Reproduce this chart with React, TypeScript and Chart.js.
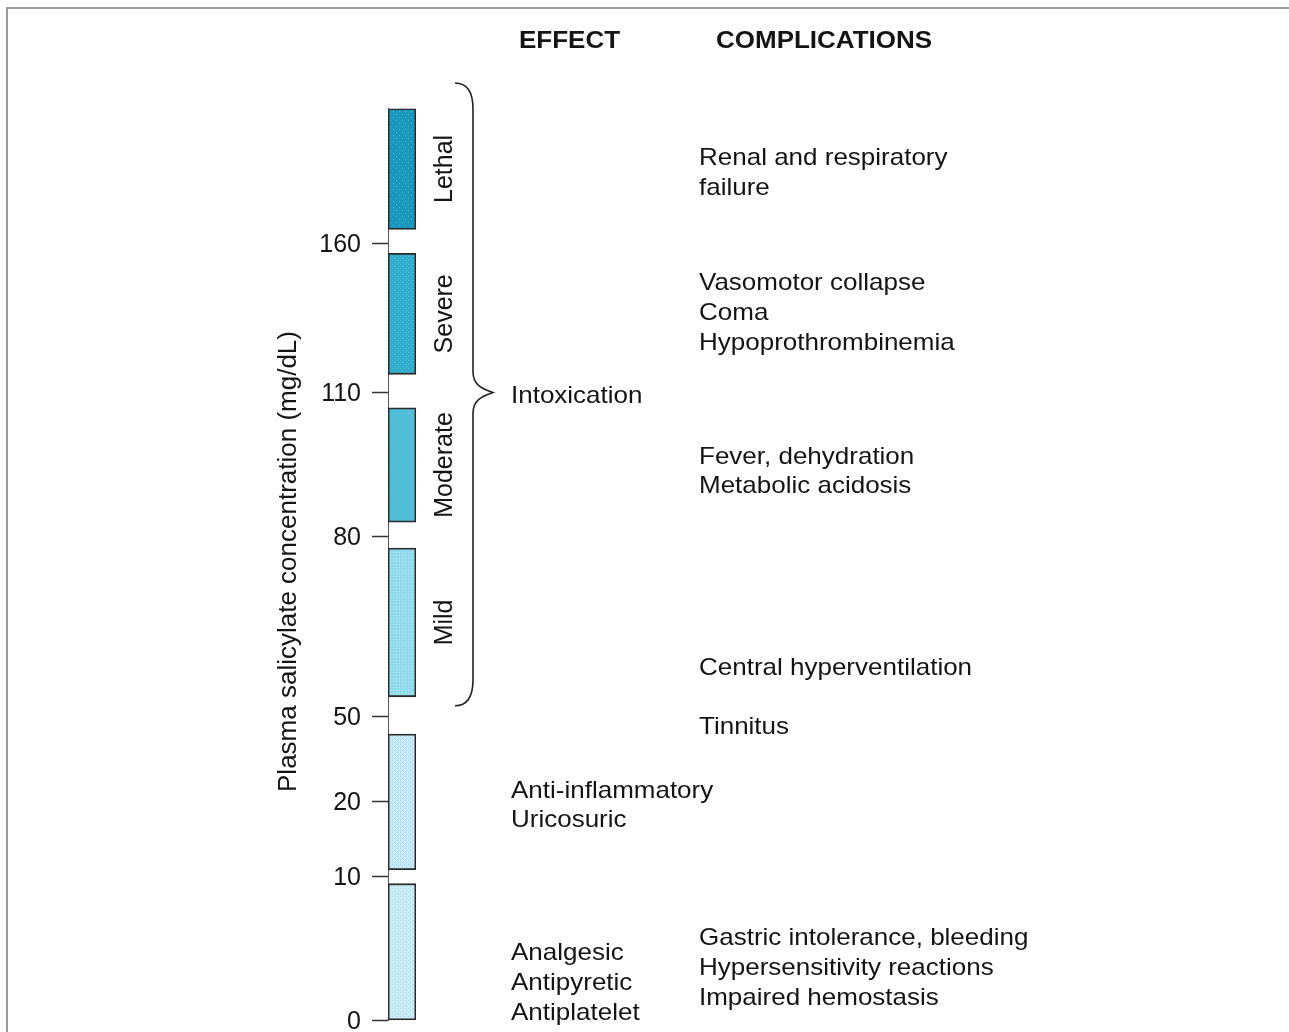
import React, { useEffect, useRef } from 'react';
import { Chart, registerables, LinearScale } from 'chart.js';

// ---------------- DATA ----------------
const TICK_VALUES = [0, 10, 20, 50, 80, 110, 160];
const STAGE_NAMES = ['Analgesic', 'Anti-inflammatory', 'Mild', 'Moderate', 'Severe', 'Lethal'];
const STAGE_LOW = [0, 10.9, 53.2, 82.9, 116.1, 164.7];
const STAGE_HIGH = [9.5, 43.6, 78, 106.8, 156.7, 205];
const STAGE_LABELS = ['', '', 'Mild', 'Moderate', 'Severe', 'Lethal'];
const BRACE_RANGE = [51.7, 213.5];
const BRACE_TIP = 110;
const HEADERS = ['EFFECT', 'COMPLICATIONS'];
const EFFECT_LINES = [['Intoxication'], ['Anti-inflammatory', 'Uricosuric'], ['Analgesic', 'Antipyretic', 'Antiplatelet']];
const EFFECT_ANCHORS = [109.5, 24.2, 4.76];
const COMPLICATION_LINES = [
  ['Renal and respiratory', 'failure'],
  ['Vasomotor collapse', 'Coma', 'Hypoprothrombinemia'],
  ['Fever, dehydration', 'Metabolic acidosis'],
  ['Central hyperventilation'],
  ['Tinnitus'],
  ['Gastric intolerance, bleeding', 'Hypersensitivity reactions', 'Impaired hemostasis'],
];
const COMPLICATION_ANCHORS = [188.9, 147.1, 96.9, 58.3, 46.8, 5.8];
const Y_TITLE = 'Plasma salicylate concentration (mg/dL)';

// ---------------- LAYOUT (non-linear axis geometry) ----------------
const AXIS_MAX = 205;
const KNOT_VALUES = [0, 10, 20, 50, 80, 110, 160, 205];
const KNOT_PX = [0, 144, 219.5, 304.5, 484.5, 628, 777, 912];
const KNOT_TOTAL = KNOT_PX[KNOT_PX.length - 1];

function valueToFrac(v: number): number {
  const n = KNOT_VALUES.length;
  let i = 0;
  if (v <= KNOT_VALUES[0]) i = 0;
  else if (v >= KNOT_VALUES[n - 1]) i = n - 2;
  else {
    while (i < n - 2 && v > KNOT_VALUES[i + 1]) i++;
  }
  const v0 = KNOT_VALUES[i], v1 = KNOT_VALUES[i + 1];
  const p0 = KNOT_PX[i], p1 = KNOT_PX[i + 1];
  return (p0 + ((v - v0) / (v1 - v0)) * (p1 - p0)) / KNOT_TOTAL;
}
function fracToValue(f: number): number {
  const px = f * KNOT_TOTAL;
  const n = KNOT_PX.length;
  let i = 0;
  if (px <= KNOT_PX[0]) i = 0;
  else if (px >= KNOT_PX[n - 1]) i = n - 2;
  else {
    while (i < n - 2 && px > KNOT_PX[i + 1]) i++;
  }
  const v0 = KNOT_VALUES[i], v1 = KNOT_VALUES[i + 1];
  const p0 = KNOT_PX[i], p1 = KNOT_PX[i + 1];
  return v0 + ((px - p0) / (p1 - p0)) * (v1 - v0);
}

class PiecewiseScale extends LinearScale {
  static id = 'piecewise';
  static defaults = LinearScale.defaults;
  getPixelForValue(value: any) {
    if (value === null || value === undefined || isNaN(value)) return NaN;
    return (this as any).getPixelForDecimal(valueToFrac(+value));
  }
  getValueForPixel(pixel: number) {
    return fracToValue((this as any).getDecimalForPixel(pixel));
  }
}

Chart.register(...registerables, PiecewiseScale as any);

const FONT_FAMILY = "'Liberation Sans', Arial, Helvetica, sans-serif";
const TEXT_COLOR = '#141414';
const TEXT_SIZE = 24;
const TEXT_SX = 1.083;
const LINE_GAP = 29.6;

function makePattern(base: string, dot: string, size: number, cross: boolean): CanvasPattern | string {
  const c = document.createElement('canvas');
  c.width = size;
  c.height = size;
  const g = c.getContext('2d');
  if (!g) return base;
  g.fillStyle = base;
  g.fillRect(0, 0, size, size);
  g.fillStyle = dot;
  g.fillRect(0, 0, 1, 1);
  if (cross) {
    g.fillRect(size / 2, size / 2, 1, 1);
  }
  const p = g.createPattern(c, 'repeat');
  return p || base;
}

function drawText(ctx: CanvasRenderingContext2D, text: string, x: number, y: number, size: number, bold: boolean, sx: number) {
  ctx.save();
  ctx.translate(x, y);
  ctx.scale(sx, 1);
  ctx.font = `${bold ? 'bold ' : ''}${size}px ${FONT_FAMILY}`;
  ctx.fillStyle = TEXT_COLOR;
  ctx.textAlign = 'left';
  ctx.textBaseline = 'alphabetic';
  ctx.fillText(text, 0, 0);
  ctx.restore();
}

function drawRotated(ctx: CanvasRenderingContext2D, text: string, xBase: number, yCenter: number, size: number) {
  ctx.save();
  ctx.translate(xBase, yCenter);
  ctx.rotate(-Math.PI / 2);
  ctx.font = `${size}px ${FONT_FAMILY}`;
  ctx.fillStyle = TEXT_COLOR;
  ctx.textAlign = 'center';
  ctx.textBaseline = 'alphabetic';
  ctx.fillText(text, 0, 0);
  ctx.restore();
}

const annotationPlugin = {
  id: 'salicylateAnnotations',
  afterDraw(chart: any) {
    const ctx: CanvasRenderingContext2D = chart.ctx;
    const y = chart.scales.y;
    const area = chart.chartArea;

    // frame
    ctx.save();
    ctx.fillStyle = '#9b9b9b';
    ctx.fillRect(6, 7, 2, chart.height);
    ctx.fillRect(6, 7, chart.width, 2);
    ctx.restore();

    // headers
    drawText(ctx, HEADERS[0], area.right + 103, 48, 24, true, TEXT_SX);
    drawText(ctx, HEADERS[1], area.right + 300, 48, 24, true, TEXT_SX);

    // rotated stage labels at bar middles
    STAGE_LABELS.forEach((lab, i) => {
      if (!lab) return;
      const mid = (y.getPixelForValue(STAGE_LOW[i]) + y.getPixelForValue(STAGE_HIGH[i])) / 2;
      drawRotated(ctx, lab, area.right + 36, mid, 25);
    });

    // brace
    const yTop = y.getPixelForValue(BRACE_RANGE[1]);
    const yBot = y.getPixelForValue(BRACE_RANGE[0]);
    const yTip = y.getPixelForValue(BRACE_TIP);
    const xL = area.right + 39;
    const xM = area.right + 57;
    const xT = area.right + 77;
    const r = 26;
    const r2 = 21;
    ctx.save();
    ctx.strokeStyle = '#222';
    ctx.lineWidth = 1.6;
    ctx.beginPath();
    ctx.moveTo(xL, yTop);
    ctx.bezierCurveTo(xL + 12, yTop, xM, yTop + 8, xM, yTop + r);
    ctx.lineTo(xM, yTip - r2);
    ctx.bezierCurveTo(xM, yTip - 8, xM + 8, yTip - 4, xT, yTip);
    ctx.bezierCurveTo(xM + 8, yTip + 4, xM, yTip + 8, xM, yTip + r2);
    ctx.lineTo(xM, yBot - r);
    ctx.bezierCurveTo(xM, yBot - 8, xL + 12, yBot, xL, yBot);
    ctx.stroke();
    ctx.restore();

    // effects
    EFFECT_LINES.forEach((lines, g) => {
      const y0 = y.getPixelForValue(EFFECT_ANCHORS[g]) + 8.5;
      lines.forEach((t, k) => drawText(ctx, t, area.right + 95, y0 + k * LINE_GAP, TEXT_SIZE, false, TEXT_SX));
    });
    // complications
    COMPLICATION_LINES.forEach((lines, g) => {
      const y0 = y.getPixelForValue(COMPLICATION_ANCHORS[g]) + 8.5;
      lines.forEach((t, k) => drawText(ctx, t, area.right + 283, y0 + k * LINE_GAP, TEXT_SIZE, false, TEXT_SX));
    });

    // y axis title
    drawRotated(ctx, Y_TITLE, 296, (area.top + area.bottom) / 2 - 3, 26);
  },
};

export default function App() {
  const ref = useRef<HTMLCanvasElement | null>(null);
  useEffect(() => {
    const canvas = ref.current;
    if (!canvas) return;
    const patterns = [
      makePattern('#c9eef6', '#a9cdf0', 4, true),
      makePattern('#c6ecf5', '#a6c8ee', 4, true),
      makePattern('#8cdaec', '#c9f2fa', 3, false),
      makePattern('#4ebfd9', '#7aa8e0', 6, true),
      makePattern('#2eaacb', '#5cc8e2', 4, true),
      makePattern('#1a97bc', '#3cc0d8', 6, true),
    ];
    const chart = new Chart(canvas, {
      type: 'bar',
      data: {
        labels: ['stage'],
        datasets: [
          {
            label: 'Plasma salicylate range',
            data: STAGE_LOW.map((lo, i) => ({ x: 'stage', y: [lo, STAGE_HIGH[i]] })) as any,
            backgroundColor: patterns as any,
            borderColor: '#2a2a2a',
            borderWidth: 1.8,
            borderSkipped: false,
            barThickness: 28,
          } as any,
        ],
      },
      options: {
        animation: false,
        responsive: false,
        devicePixelRatio: 1,
        layout: { padding: { left: 0, right: 873, top: 108.5, bottom: 11.5 } },
        plugins: { legend: { display: false }, tooltip: { enabled: false }, title: { display: false } },
        scales: {
          x: { type: 'category', display: false, offset: true },
          y: {
            type: 'piecewise' as any,
            min: 0,
            max: AXIS_MAX,
            afterBuildTicks: (s: any) => {
              s.ticks = TICK_VALUES.map((v) => ({ value: v }));
            },
            afterFit: (s: any) => {
              s.width = 388;
              s.paddingTop = 0;
              s.paddingBottom = 0;
            },
            ticks: {
              autoSkip: false,
              padding: 11,
              labelOffset: 2,
              color: TEXT_COLOR,
              font: { family: FONT_FAMILY, size: 25 },
              callback: (v: any) => String(v),
            },
            grid: { drawOnChartArea: false, drawTicks: true, tickLength: 16, tickWidth: 1.5, tickColor: '#333' },
            border: { display: true, color: '#555', width: 1 },
          } as any,
        },
      },
      plugins: [annotationPlugin],
    } as any);
    return () => chart.destroy();
  }, []);
  return (
    <div style={{ position: 'fixed', left: 0, top: 0, width: 1289, height: 1032, background: '#fff' }}>
      <canvas ref={ref} width={1289} height={1032} style={{ display: 'block', width: 1289, height: 1032 }} />
    </div>
  );
}
